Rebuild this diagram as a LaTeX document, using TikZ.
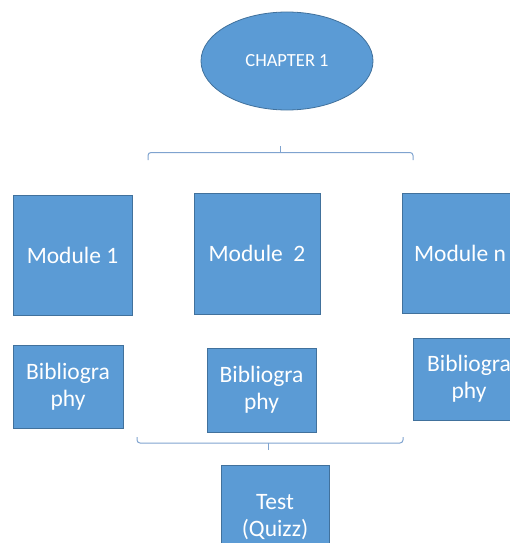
\documentclass[tikz,border=0pt]{standalone}
\usepackage{fontspec}
\setmainfont{Carlito}
\usetikzlibrary{shapes.geometric}
\definecolor{boxfill}{HTML}{5B9BD5}
\definecolor{boxline}{HTML}{41719C}
\definecolor{bracecol}{HTML}{7FA3CF}
\tikzset{
  blk/.style={draw=boxline, line width=0.8pt, fill=boxfill, text=white, align=center, inner sep=0pt, font=\fontsize{23.5}{27}\selectfont},
  chap/.style={ellipse, draw=boxline, line width=0.8pt, fill=boxfill, text=white, inner sep=0pt, font=\fontsize{18.5}{22}\selectfont},
  brace/.style={draw=bracecol, line width=1pt, rounded corners=3pt}
}
\begin{document}
\begin{tikzpicture}[x=1pt,y=-1pt]
\useasboundingbox (0,0) rectangle (510,543);
\clip (0,0) rectangle (510,543);
\node[chap, minimum width=172pt, minimum height=98pt] (ch) at (287,61) {CHAPTER 1};
\node[blk, minimum width=119pt, minimum height=120pt] (m1) at (72.5,255) {Module 1};
\node[blk, minimum width=126pt, minimum height=121pt] (m2) at (257,253.5) {Module\ \ 2};
\node[blk, minimum width=116pt, minimum height=120pt] (mn) at (460,253) {Module n};
\node[blk, minimum width=110pt, minimum height=83pt] (b1) at (68,386.5) {Bibliogra\\phy};
\node[blk, minimum width=109pt, minimum height=84pt] (b2) at (261.5,390) {Bibliogra\\phy};
\node[blk, minimum width=112pt, minimum height=82pt] (bn) at (469,379) {Bibliogra\\phy};
\node[blk, minimum width=108pt, minimum height=104pt] (t) at (275,517) {Test\\(Quizz)};
% top brace
\coordinate (tl) at (148,160);
\coordinate (tr) at (413,160);
\coordinate (tm) at (280,146);
\draw[brace] (tl) -- (148,152.5) -- (413,152.5) -- (tr);
\draw[brace] (tm) -- (280,152.5);
% bottom brace
\coordinate (bl) at (137,437);
\coordinate (br) at (403,437);
\coordinate (bm) at (268,450);
\draw[brace] (bl) -- (137,443) -- (403,443) -- (br);
\draw[brace] (bm) -- (268,443);
\end{tikzpicture}
\end{document}
